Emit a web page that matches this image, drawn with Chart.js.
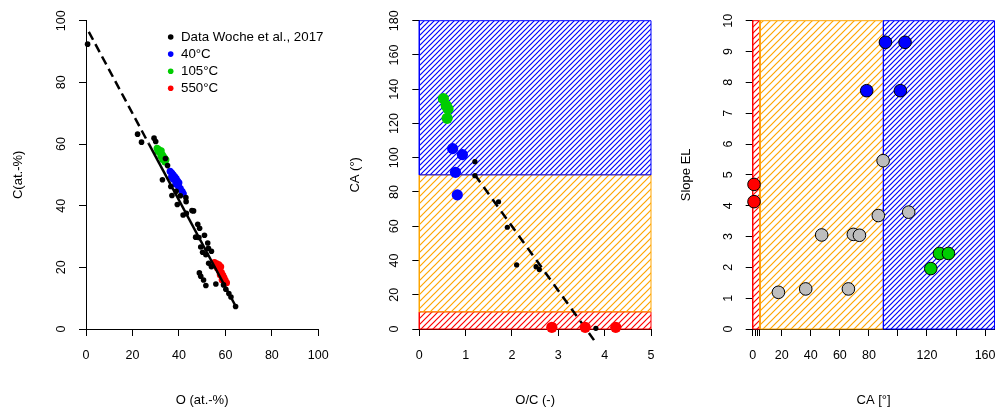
<!DOCTYPE html>
<html><head><meta charset="utf-8">
<script src="https://cdn.jsdelivr.net/npm/chart.js@4.4.0/dist/chart.umd.min.js"></script>
<style>
html,body{margin:0;padding:0;background:#fff;}
#wrap{position:relative;width:997px;height:414px;background:#fff;}
canvas{position:absolute;left:0;top:0;}
</style></head><body>
<div id="wrap">
<canvas id="c1" width="997" height="414"></canvas>
<canvas id="c2" width="997" height="414"></canvas>
<canvas id="c3" width="997" height="414"></canvas>
</div>
<script>
// ================= DATA =================
// Panel 1: C (at.-%) vs O (at.-%)
const p1Woche = [[0.7,92.4],[22.2,63.2],[23.9,60.6],[29.3,61.9],[30.0,60.8],[34.2,55.3],[35.1,53.0],[32.9,48.4],
  [36.5,46.2],[37.0,43.3],[38.8,44.7],[39.3,40.4],[40.6,43.2],[43.0,42.6],[43.1,41.3],[41.8,37.0],[43.2,37.5],
  [45.6,38.4],[46.3,38.3],[48.1,34.0],[48.9,32.7],[47.2,29.8],[48.6,29.7],[51.0,30.4],[49.4,26.6],[52.4,27.9],
  [52.7,26.2],[50.2,24.9],[51.6,24.1],[54.0,25.2],[52.8,21.3],[54.0,20.2],[48.8,18.2],[49.4,17.1],[50.6,15.9],
  [51.6,14.1],[55.9,14.6],[59.2,14.3],[60.2,12.9],[61.5,11.5],[62.4,10.4],[64.4,7.3]];
const p1T40 = [[36.2,51.2],[36.9,50.6],[37.5,50.0],[38.2,49.4],[38.8,48.8],[39.4,48.0],[40.0,47.4],[37.6,48.6],
  [38.6,47.0],[39.8,46.3],[40.6,45.6],[41.4,44.6],[41.9,43.9],[36.8,49.3]];
const p1T105 = [[30.6,58.6],[31.3,58.2],[31.8,57.3],[32.4,57.8],[32.8,56.6],[33.3,56.0],[33.9,55.4],[34.4,54.9],
  [31.0,57.6],[32.2,56.1],[34.0,54.2],[33.0,55.0]];
const p1T550 = [[55.3,21.6],[56.3,21.2],[57.2,20.8],[58.0,20.2],[57.4,19.0],[58.3,18.3],[58.9,17.4],[59.4,16.6],
  [59.9,15.8],[60.5,15.0],[56.6,19.8],[58.6,16.0],[57.8,17.6]];
const p1FitExtrapolated = [[1.2,96.4],[27.0,60.1]];
const p1FitRange = [[27.0,60.1],[64.5,7.3]];
const p1LegendLabels = ["Data Woche et al., 2017","40°C","105°C","550°C"];
const p1XTicks = [0,20,40,60,80,100];
const p1YTicks = [0,20,40,60,80,100];

// Panel 2: CA (°) vs O/C (-)
const p2Woche = [[1.20,97.7],[1.20,89.5],[1.71,74.3],[1.90,59.4],[2.10,37.4],[2.52,36.4],[2.59,34.8],[3.81,0.4]];
const p2T40 = [[0.72,105.3],[0.93,101.8],[0.78,91.5],[0.82,78.3]];
const p2T105 = [[0.52,134.5],[0.58,130.5],[0.62,128.5],[0.60,123.0]];
const p2T550 = [[2.86,1.0],[3.58,1.0],[4.24,1.0]];
const p2Fit = [[1.2,90.0],[3.77,-6.5]];
const p2CaBands = [[90,180],[10,90],[0,10]];      // hydrophobic, hydrophilic, superhydrophilic
const p2XRange = [0,5];
const p2XTicks = [0,1,2,3,4,5];
const p2YTicks = [0,20,40,60,80,100,120,140,160,180];

// Panel 3: Slope EL vs CA [°]
const p3Gray = [[17.7,1.19],[36.5,1.30],[65.9,1.30],[47.5,3.05],[69.3,3.07],[73.5,3.04],[86.5,3.68],[89.8,5.46],[107.4,3.79]];
const p3T40 = [[91.4,9.30],[104.9,9.30],[78.5,7.73],[101.7,7.73]];
const p3T105 = [[122.6,1.96],[128.6,2.45],[134.8,2.45]];
const p3T550 = [[0.9,4.69],[0.9,4.13]];
const p3CaBands = [[90,166.5],[5,90],[0,5]];
const p3YRange = [0,10];
const p3XTicks = [0,20,40,60,80,100,120,140,160];
const p3XLabels = [0,20,40,60,80,120,160];
const p3Rug = [1.6,3.2,4.8];
const p3YTicks = [0,1,2,3,4,5,6,7,8,9,10];

// ================= STYLE / HELPERS =================
const FONT = "'Liberation Sans', Arial, Helvetica, sans-serif";
const COL = {black:'#000000', blue:'#0000FF', green:'#00CD00', red:'#FF0000', orange:'#FFA500', gray:'#BEBEBE'};
const xy = a => a.map(p => ({x:p[0], y:p[1]}));

function hatch(color, p, lw) {
  const c = document.createElement('canvas'); c.width = p; c.height = p;
  const g = c.getContext('2d');
  g.strokeStyle = color; g.lineWidth = lw;
  g.beginPath();
  g.moveTo(-1, p+1); g.lineTo(p+1, -1);
  g.moveTo(-1, 1); g.lineTo(1, -1);
  g.moveTo(p-1, p+1); g.lineTo(p+1, p-1);
  g.stroke();
  return g.createPattern(c, 'repeat');
}
const BAND_STYLE = [
  {color: COL.blue, pat: hatch(COL.blue, 5, 1.2)},
  {color: COL.orange, pat: hatch(COL.orange, 7, 1.2)},
  {color: COL.red, pat: hatch(COL.red, 6, 1.2)}
];
function rectPoly(x0,x1,y0,y1){ return [{x:x0,y:y0},{x:x1,y:y0},{x:x1,y:y1},{x:x0,y:y1},{x:x0,y:y0}]; }
function bandDataset(poly, st){
  return {data: poly, showLine:true, fill:'shape', backgroundColor: st.pat, borderColor: st.color,
    borderWidth:1, pointRadius:0, tension:0, order:10, clip:false};
}
function pts(data, color, r, border, order, extra){
  return Object.assign({data: xy(data), pointRadius:r, pointBackgroundColor:color, backgroundColor:color,
    pointBorderColor: border ? '#000' : color, borderColor: border ? '#000' : color,
    pointBorderWidth: border ? 1 : 0, showLine:false, order, clip:false}, extra||{});
}
function lineDs(data, dash, width, order){
  return {data: xy(data), showLine:true, borderColor:'#000', borderWidth:width, borderDash:dash,
    pointRadius:0, fill:false, order, clip:false};
}
function setTicks(vals){ return s => { s.ticks = vals.map(v => ({value:v})); }; }

function yAxis(min, max, ticks, title, tickPad, titlePad){
  return {type:'linear', position:'left', min, max,
    afterBuildTicks: setTicks(ticks),
    ticks:{minRotation:90, maxRotation:90, crossAlign:'center', padding:tickPad, color:'#000', autoSkip:false,
      font:{size:12.5, family:FONT}, callback: v => String(v)},
    grid:{display:true, drawOnChartArea:false, drawTicks:true, tickLength:7, color:'#000', lineWidth:1},
    border:{display:true, color:'#000', width:1},
    title:{display:true, text:title, color:'#000', font:{size:13, family:FONT}, padding:{top:titlePad, bottom:0}},
    afterFit: s => { s.width = 86; s.paddingTop = 0; s.paddingBottom = 0; }
  };
}
function xAxis(min, max, ticks, title, labelFn){
  return {type:'linear', position:'bottom', min, max,
    afterBuildTicks: setTicks(ticks),
    ticks:{maxRotation:0, minRotation:0, padding:12, color:'#000', autoSkip:false,
      font:{size:12.5, family:FONT}, callback: labelFn || (v => String(v))},
    grid:{display:true, drawOnChartArea:false, drawTicks:true, tickLength:7, color:'#000', lineWidth:1},
    border:{display:true, color:'#000', width:1},
    title:{display:true, text:title, color:'#000', font:{size:13, family:FONT}, padding:{top:0, bottom:6.2}},
    afterFit: s => { s.height = 85; s.paddingLeft = 0; s.paddingRight = 0; }
  };
}
function baseOptions(L, R, xs, ys, extraPlugins){
  return {responsive:false, animation:false, events:[], devicePixelRatio:1,
    layout:{autoPadding:false, padding:{left:L-86, right:997-R, top:20.7, bottom:0}},
    plugins:Object.assign({legend:{display:false}, tooltip:{enabled:false}}, extraPlugins||{}),
    scales:{x:xs, y:ys}};
}

const insetLegend = {
  id:'insetLegend',
  afterDatasetsDraw(chart, args, o){
    const ctx = chart.ctx, a = chart.chartArea;
    const items = chart.data.datasets.filter(d => d.legendIndex !== undefined)
      .sort((p,q) => p.legendIndex - q.legendIndex);
    ctx.save();
    ctx.font = '13.3px ' + FONT; ctx.textBaseline = 'middle'; ctx.textAlign = 'left';
    items.forEach((d,i) => {
      const y = a.top + o.dy + i*o.rowH;
      ctx.fillStyle = d.pointBackgroundColor;
      ctx.beginPath(); ctx.arc(a.left + o.dotX, y, o.r, 0, 2*Math.PI); ctx.fill();
      ctx.fillStyle = '#000';
      ctx.fillText(d.label, a.left + o.textX, y);
    });
    ctx.restore();
  }
};

// ================= PANEL 1 =================
new Chart(document.getElementById('c1'), {
  type:'scatter',
  data:{datasets:[
    pts(p1T40, COL.blue, 3.5, false, 4, {label:p1LegendLabels[1], legendIndex:1}),
    pts(p1T105, COL.green, 3.5, false, 4, {label:p1LegendLabels[2], legendIndex:2}),
    pts(p1T550, COL.red, 3.5, false, 4, {label:p1LegendLabels[3], legendIndex:3}),
    pts(p1Woche, COL.black, 2.8, false, 3, {label:p1LegendLabels[0], legendIndex:0}),
    lineDs(p1FitExtrapolated, [9,5], 2.5, 1),
    lineDs(p1FitRange, [], 2.5, 1)
  ]},
  options: baseOptions(86, 318.3,
    xAxis(0, 100, p1XTicks, 'O (at.-%)'),
    yAxis(0, 100, p1YTicks, 'C(at.-%)', 6.9, 10.5),
    {insetLegend:{dy:16.3, rowH:17.1, dotX:84.7, textX:95, r:2.8}}),
  plugins:[insetLegend]
});

// ================= PANEL 2 =================
new Chart(document.getElementById('c2'), {
  type:'scatter',
  data:{datasets:[
    ...p2CaBands.map((b,i) => bandDataset(rectPoly(p2XRange[0], p2XRange[1], b[0], b[1]), BAND_STYLE[i])),
    lineDs(p2Fit, [9,6], 2.5, 3),
    pts(p2Woche, COL.black, 2.6, false, 2),
    pts(p2T105, COL.green, 5.6, false, 1),
    pts(p2T40, COL.blue, 5.6, false, 1),
    pts(p2T550, COL.red, 5.6, false, 1)
  ]},
  options: baseOptions(419.3, 651,
    xAxis(0, 5, p2XTicks, 'O/C (-)'),
    yAxis(0, 180, p2YTicks, 'CA (°)', 6.9, 13.9))
});

// ================= PANEL 3 =================
const p3AllXTicks = [...p3XTicks, ...p3Rug].sort((a,b) => a-b);
new Chart(document.getElementById('c3'), {
  type:'scatter',
  data:{datasets:[
    ...p3CaBands.map((b,i) => bandDataset(rectPoly(b[0], b[1], p3YRange[0], p3YRange[1]), BAND_STYLE[i])),
    pts(p3Gray, COL.gray, 6.3, true, 4),
    pts(p3T40, COL.blue, 6.3, true, 3),
    pts(p3T105, COL.green, 6.3, true, 2),
    pts(p3T550, COL.red, 6.3, true, 1)
  ]},
  options: baseOptions(752.7, 994.5,
    xAxis(0, 166.5, p3AllXTicks, 'CA [°]', v => p3XLabels.includes(v) ? String(v) : ''),
    yAxis(0, 10, p3YTicks, 'Slope EL', 10.4, 12.2))
});
</script>
</body></html>
